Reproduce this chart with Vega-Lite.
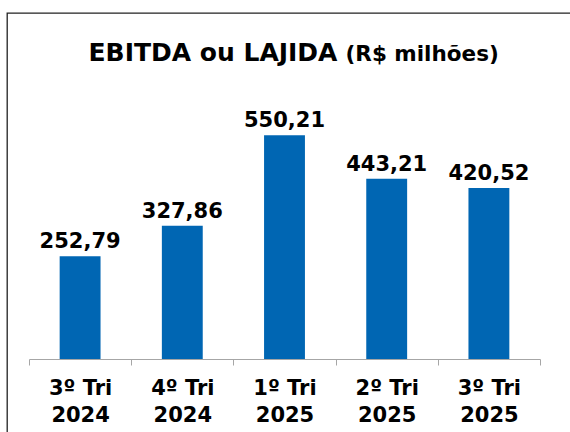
{
  "$schema": "https://vega.github.io/schema/vega-lite/v6.json",
  "autosize": {"type": "none"},
  "padding": {"left": 7, "top": 13, "right": 0, "bottom": 0},
  "width": 600,
  "height": 440,
  "background": "white",
  "config": {
    "view": {"stroke": "#222222", "strokeWidth": 1.3},
    "locale": {"number": {"decimal": ",", "thousands": ".", "grouping": [3], "currency": ["R$", ""]}},
    "font": "DejaVu Sans"
  },
  "data": {
    "values": [
      {"periodo": "3º Tri 2024", "ebitda": 252.79},
      {"periodo": "4º Tri 2024", "ebitda": 327.86},
      {"periodo": "1º Tri 2025", "ebitda": 550.21},
      {"periodo": "2º Tri 2025", "ebitda": 443.21},
      {"periodo": "3º Tri 2025", "ebitda": 420.52}
    ]
  },
  "encoding": {
    "x": {
      "field": "periodo",
      "type": "nominal",
      "sort": null,
      "scale": {"range": [22, 533], "paddingInner": 0, "paddingOuter": 0},
      "axis": {
        "title": "EBITDA ou LAJIDA",
        "titleX": 81,
        "titleY": -299,
        "titleAngle": 0,
        "titleAlign": "left",
        "titleBaseline": "alphabetic",
        "titleFont": "DejaVu Sans",
        "titleFontSize": 25,
        "titleFontWeight": "bold",
        "titleColor": "black",
        "orient": "bottom",
        "offset": -94,
        "tickBand": "extent",
        "labelAngle": 0,
        "labelExpr": "[substring(datum.label, 0, 6), substring(datum.label, 7)]",
        "labelFont": "DejaVu Sans",
        "labelFontSize": 21,
        "labelFontWeight": "bold",
        "labelColor": "black",
        "labelLineHeight": 27,
        "labelBaseline": "top",
        "labelPadding": 12,
        "tickSize": 6,
        "tickColor": "#a6a6a6",
        "domainColor": "#a6a6a6",
        "labelOverlap": false,
        "labelBound": false
      }
    },
    "y": {
      "field": "ebitda",
      "type": "quantitative",
      "scale": {"domain": [0, 600], "range": [346, 102], "nice": false, "zero": true},
      "axis": {
        "title": "(R$ milhões)",
        "domain": false,
        "ticks": false,
        "labels": false,
        "grid": false,
        "titleAngle": 0,
        "titleX": 338,
        "titleY": 47,
        "titleAlign": "left",
        "titleBaseline": "alphabetic",
        "titleFont": "DejaVu Sans",
        "titleFontSize": 21.5,
        "titleFontWeight": "bold",
        "titleColor": "black"
      }
    }
  },
  "layer": [
    {
      "mark": {"type": "bar", "color": "#0066b3", "width": {"band": 0.4}}
    },
    {
      "mark": {"type": "text", "dy": -8, "baseline": "alphabetic", "align": "center", "font": "DejaVu Sans", "fontSize": 21, "fontWeight": "bold", "color": "black"},
      "encoding": {"text": {"field": "ebitda", "type": "quantitative", "format": ".2f"}}
    }
  ]
}
